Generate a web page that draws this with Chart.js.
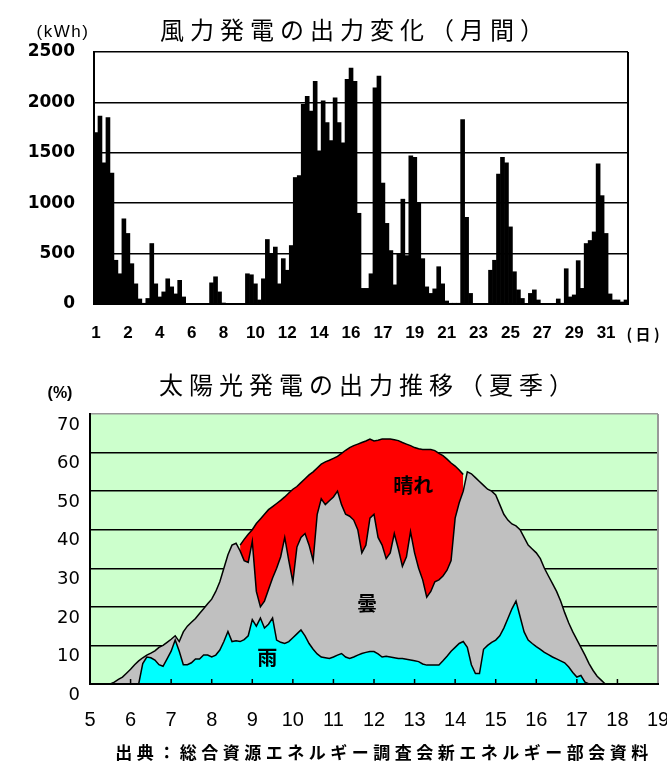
<!DOCTYPE html>
<html lang="ja">
<head>
<meta charset="utf-8">
<title>風力発電と太陽光発電の出力</title>
<script src="https://cdn.jsdelivr.net/npm/chart.js@4.4.1/dist/chart.umd.min.js"></script>
<style>
  body { margin: 0; background: #fff; }
  #page { position: relative; width: 667px; height: 765px; overflow: hidden; }
  canvas { position: absolute; left: 0; }
  .txt { position: absolute; white-space: nowrap; line-height: 1; color: #000; transform: translate(-50%, -50%); }
  .title { font-family: "Noto Sans CJK JP"; font-size: 24px; letter-spacing: 6px; }
  .unit { font-family: "Liberation Sans"; }
  .foot { font-family: "Noto Sans CJK JP"; font-size: 17px; font-weight: 700; letter-spacing: 4.5px; }
</style>
</head>
<body>
<div id="page">
  <canvas id="windChart" width="667" height="345" style="top:0"></canvas>
  <canvas id="solarChart" width="667" height="420" style="top:345px"></canvas>

  <div class="txt title" style="left:355px; top:29px">風力発電の出力変化（月間）</div>
  <div class="txt unit" style="left:63px; top:31px; font-size:17px; letter-spacing:1.5px">(kWh)</div>
  <div class="txt" style="left:643px; top:333px; font-family:'Noto Sans CJK JP'; font-size:15px; font-weight:700">( 日 )</div>

  <div class="txt title" style="left:369px; top:384px">太陽光発電の出力推移（夏季）</div>
  <div class="txt unit" style="left:60px; top:393px; font-size:16px; font-weight:700">(%)</div>

  <div class="txt foot" style="left:384px; top:751px">出典：総合資源エネルギー調査会新エネルギー部会資料</div>
</div>

<script>
// 風力：1か月の出力 (kWh)、左から順に読み取った値
const windOutput = [
  1700, 1865, 1400, 1850, 1300, 434, 300, 845, 700, 400,
  200, 50, 5, 55, 600, 200, 70, 120, 250, 170,
  100, 235, 70, 0, 0, 0, 0, 0, 0, 210,
  270, 120, 10, 0, 0, 0, 0, 0, 300, 290,
  200, 40, 250, 640, 500, 565, 200, 450, 335, 580,
  1255, 1275, 1980, 2060, 1915, 2210, 1520, 2015, 1800, 1620,
  2045, 1800, 1600, 2230, 2340, 2210, 900, 155, 155, 300,
  2145, 2260, 1200, 800, 530, 190, 500, 1040, 480, 1470,
  1455, 1000, 450, 170, 105, 150, 370, 200, 30, 5,
  5, 5, 1830, 860, 105, 0, 0, 0, 0, 335,
  434, 1290, 1455, 1400, 765, 320, 140, 55, 0, 105,
  140, 40, 0, 0, 0, 0, 50, 5, 350, 70,
  90, 430, 155, 600, 630, 715, 1390, 1075, 700, 100,
  40, 40, 20, 40
];
const dayTicks = ['1', '2', '4', '6', '8', '10', '12', '14', '16', '17', '19', '21', '23', '25', '27', '29', '31'];
const barsPerTick = 8;

// 太陽光：時刻 (時) と出力 (%)
const hours = [
  5.5, 5.6, 5.7, 5.8, 5.9, 6.0, 6.1, 6.2, 6.3, 6.4,
  6.5, 6.6, 6.7, 6.8, 6.9, 7.0, 7.1, 7.2, 7.3, 7.4,
  7.5, 7.6, 7.7, 7.8, 7.9, 8.0, 8.1, 8.2, 8.3, 8.4,
  8.5, 8.6, 8.7, 8.8, 8.9, 9.0, 9.1, 9.2, 9.3, 9.4,
  9.5, 9.6, 9.7, 9.8, 9.9, 10.0, 10.1, 10.2, 10.3, 10.4,
  10.5, 10.6, 10.7, 10.8, 10.9, 11.0, 11.1, 11.2, 11.3, 11.4,
  11.5, 11.6, 11.7, 11.8, 11.9, 12.0, 12.1, 12.2, 12.3, 12.4,
  12.5, 12.6, 12.7, 12.8, 12.9, 13.0, 13.1, 13.2, 13.3, 13.4,
  13.5, 13.6, 13.7, 13.8, 13.9, 14.0, 14.1, 14.2, 14.3, 14.4,
  14.5, 14.6, 14.7, 14.8, 14.9, 15.0, 15.1, 15.2, 15.3, 15.4,
  15.5, 15.6, 15.7, 15.8, 15.9, 16.0, 16.1, 16.2, 16.3, 16.4,
  16.5, 16.6, 16.7, 16.8, 16.9, 17.0, 17.1, 17.2, 17.3, 17.4,
  17.5, 17.6, 17.7, 17.8
];
const sunny = [
  null, null, null, null, null, null, null, null, null, null,
  null, null, null, null, null, null, null, null, null, null,
  null, null, null, null, null, null, null, null, null, null,
  null, null, 36.0, 37.5, 38.8, 40.0, 41.6, 42.8, 44.0, 45.2,
  46.0, 46.8, 47.6, 48.5, 49.5, 50.5, 51.2, 52.2, 53.2, 54.2,
  55.0, 56.0, 57.0, 57.6, 58.0, 58.5, 59.0, 59.8, 60.6, 61.3,
  61.8, 62.2, 62.6, 63.0, 63.5, 63.0, 63.2, 63.5, 63.5, 63.5,
  63.3, 63.1, 62.6, 62.2, 61.8, 61.3, 61.0, 60.8, 60.8, 60.8,
  60.5, 59.8, 59.2, 58.3, 57.3, 56.5, 55.5, 54.3, null, null,
  null, null, null, null, null, null, null, null, null, null,
  null, null, null, null, null, null, null, null, null, null,
  null, null, null, null, null, null, null, null, null, null,
  null, null, null, null
];
const cloudy = [
  0, 0.5, 1.2, 1.8, 2.8, 3.8, 5.0, 6.0, 6.8, 7.5,
  8.0, 8.6, 9.5, 10.0, 10.8, 11.6, 12.5, 11.0, 13.5, 15.0,
  16.0, 17.0, 18.3, 19.5, 20.8, 22.0, 24.0, 26.5, 30.0, 33.5,
  36.0, 36.5, 34.5, 32.0, 31.5, 37.0, 24.0, 20.0, 21.5, 24.5,
  27.5, 30.0, 33.0, 38.0, 32.0, 26.5, 35.5, 38.0, 39.0, 36.0,
  32.0, 44.0, 48.0, 46.5, 47.5, 48.5, 50.0, 46.5, 44.0, 43.5,
  42.5, 40.0, 34.0, 36.0, 43.0, 44.0, 38.0, 36.0, 32.5, 34.0,
  39.0, 35.0, 30.5, 33.0, 39.5, 34.0, 30.0, 27.0, 22.5, 24.0,
  26.5, 27.0, 28.0, 29.5, 32.0, 43.0, 47.0, 50.0, 55.0, 54.5,
  53.5, 52.5, 51.5, 50.5, 50.0, 49.0, 46.5, 44.0, 42.5, 41.5,
  41.0, 40.0, 38.0, 36.0, 35.0, 34.0, 32.5, 30.0, 28.0, 26.0,
  24.0, 21.5, 18.5, 15.8, 13.5, 11.5, 9.5, 7.5, 5.3, 3.5,
  2.0, 1.0, 0, 0
];
const rainy = [
  0, 0, 0, 0, 0, 0, 0, 0, 5.3, 7.0,
  6.8, 6.2, 5.0, 4.6, 6.5, 8.5, 11.4, 8.5, 5.0, 5.0,
  5.5, 6.5, 6.5, 7.5, 7.5, 7.0, 7.5, 8.8, 11.0, 13.6,
  11.0, 11.2, 11.0, 11.5, 12.5, 16.7, 15.0, 17.1, 14.5, 15.5,
  17.1, 11.4, 10.8, 10.5, 11.0, 12.0, 13.0, 14.0, 12.5, 10.5,
  9.0, 7.8, 7.0, 6.8, 6.6, 7.0, 7.5, 7.9, 7.0, 6.6,
  7.0, 7.5, 7.9, 8.2, 8.4, 8.4, 7.8, 7.0, 7.2, 7.0,
  6.8, 6.6, 6.6, 6.4, 6.2, 6.0, 5.8, 5.2, 4.9, 4.9,
  4.9, 4.9, 6.0, 7.2, 8.5, 9.5, 10.5, 11.0, 9.5, 5.0,
  2.7, 2.7, 9.0, 10.0, 10.8, 11.4, 12.5, 14.5, 17.0, 19.5,
  21.5, 17.5, 13.5, 11.4, 10.5, 9.7, 9.0, 8.2, 7.6, 7.0,
  6.5, 6.0, 5.5, 4.4, 3.0, 1.8, 2.2, 0.5, 0, 0,
  0, 0, 0, 0
];
const areaLabels = [
  { text: '晴れ', hour: 12.97, value: 51.6 },
  { text: '曇', hour: 11.83, value: 20.9 },
  { text: '雨', hour: 9.37, value: 7.0 }
];

// 枠線・背景・目盛りなどの小物
const framePlugin = {
  id: 'frame',
  beforeDraw(chart, args, opts) {
    const { ctx, chartArea: a } = chart;
    if (opts.fill) {
      ctx.save();
      ctx.fillStyle = opts.fill;
      ctx.fillRect(a.left, a.top, a.right - a.left, a.bottom - a.top);
      ctx.restore();
    }
  },
  afterDatasetsDraw(chart, args, opts) {
    const { ctx, chartArea: a } = chart;
    ctx.save();
    ctx.strokeStyle = opts.right || '#000';
    ctx.lineWidth = 2;
    ctx.beginPath();
    ctx.moveTo(a.right, a.top);
    ctx.lineTo(a.right, a.bottom);
    ctx.stroke();
    if (opts.innerTicks) {
      const x = chart.scales.x;
      ctx.strokeStyle = '#000';
      ctx.lineWidth = 1.5;
      for (let h = x.min + 1; h < x.max; h++) {
        const px = x.getPixelForValue(h);
        ctx.beginPath();
        ctx.moveTo(px, a.bottom);
        ctx.lineTo(px, a.bottom - 5);
        ctx.stroke();
      }
    }
    if (opts.labels) {
      ctx.fillStyle = '#000';
      ctx.font = 'bold 20px "Noto Sans CJK JP"';
      ctx.textAlign = 'center';
      ctx.textBaseline = 'middle';
      opts.labels.forEach(l => {
        ctx.fillText(l.text, chart.scales.x.getPixelForValue(l.hour), chart.scales.y.getPixelForValue(l.value));
      });
    }
    ctx.restore();
  }
};
Chart.register(framePlugin);

// 上：風力発電の出力変化
new Chart(document.getElementById('windChart'), {
  type: 'bar',
  data: {
    datasets: [{
      data: windOutput.map((v, i) => ({ x: i, y: v })),
      backgroundColor: '#000',
      borderWidth: 0,
      barPercentage: 1,
      categoryPercentage: 1
    }]
  },
  options: {
    responsive: false,
    animation: false,
    layout: { padding: { top: 52, right: 39, left: 0, bottom: 0 } },
    plugins: {
      legend: { display: false },
      tooltip: { enabled: false },
      frame: { right: '#000' }
    },
    scales: {
      x: {
        type: 'linear',
        offset: false,
        min: -0.5,
        max: windOutput.length - 0.5,
        grid: { display: false, drawTicks: false },
        border: { color: '#000', width: 2, z: 1 },
        ticks: {
          stepSize: barsPerTick,
          includeBounds: false,
          autoSkip: false,
          maxTicksLimit: 40,
          maxRotation: 0,
          padding: 19,
          color: '#000',
          font: { family: 'Liberation Sans', size: 17, weight: 'bold' },
          callback: v => (v >= 0 && v % barsPerTick === 0 ? dayTicks[v / barsPerTick] : '')
        },
        afterFit(s) { s.height = 41; s.paddingLeft = 0; s.paddingRight = 0; }
      },
      y: {
        min: 0,
        max: 2500,
        ticks: {
          stepSize: 500,
          padding: 19,
          color: '#000',
          font: { family: 'DejaVu Sans', size: 17, weight: 'bold' },
          callback: v => String(v)
        },
        grid: { color: '#000', lineWidth: 1.5, drawTicks: false },
        border: { color: '#000', width: 2, z: 1 },
        afterFit(s) { s.width = 94; s.paddingTop = 0; s.paddingBottom = 0; }
      }
    }
  }
});

// 下：太陽光発電の出力推移
const toPoints = arr => arr.map((v, i) => ({ x: hours[i], y: v }));
const areaStyle = { borderColor: '#000', borderWidth: 1.5, pointRadius: 0, tension: 0, fill: 'origin' };

new Chart(document.getElementById('solarChart'), {
  type: 'line',
  data: {
    datasets: [
      Object.assign({ label: '雨', data: toPoints(rainy), backgroundColor: '#00FFFF' }, areaStyle),
      Object.assign({ label: '曇', data: toPoints(cloudy), backgroundColor: '#C0C0C0' }, areaStyle),
      Object.assign({ label: '晴れ', data: toPoints(sunny), backgroundColor: '#FF0000' }, areaStyle)
    ]
  },
  options: {
    responsive: false,
    animation: false,
    layout: { padding: { top: 69, right: 9, left: 0, bottom: 0 } },
    plugins: {
      legend: { display: false },
      tooltip: { enabled: false },
      frame: { fill: '#CCFFCC', right: '#999', innerTicks: true, labels: areaLabels }
    },
    scales: {
      x: {
        type: 'linear',
        min: 5,
        max: 19,
        grid: { display: false, drawTicks: false },
        border: { color: '#000', width: 2, z: 1 },
        ticks: {
          stepSize: 1,
          maxRotation: 0,
          padding: 24,
          color: '#000',
          font: { family: 'Liberation Sans', size: 20 }
        },
        afterFit(s) { s.height = 81; s.paddingLeft = 0; s.paddingRight = 0; }
      },
      y: {
        min: 0,
        max: 70,
        ticks: {
          stepSize: 10,
          padding: 10,
          labelOffset: 11,
          color: '#000',
          font: { family: 'DejaVu Sans', size: 18 }
        },
        grid: {
          color: c => (c.tick && c.tick.value === 70 ? '#999' : '#000'),
          lineWidth: 1.5,
          drawTicks: false
        },
        border: { color: '#000', width: 2, z: 1 },
        afterFit(s) { s.width = 90; s.paddingTop = 0; s.paddingBottom = 0; }
      }
    }
  }
});
</script>
</body>
</html>
